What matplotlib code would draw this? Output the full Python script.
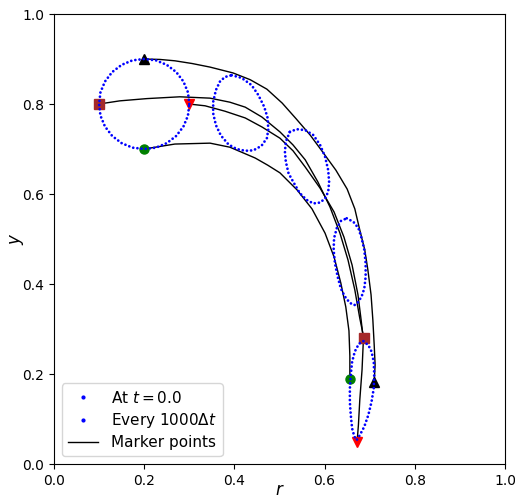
import numpy as np
import matplotlib.pyplot as plt
from matplotlib.lines import Line2D

# interface snapshots (r, y)
shape_t0_r = [0.300, 0.297, 0.287, 0.271, 0.250, 0.226, 0.200, 0.174, 0.150, 0.129, 0.113, 0.103,
              0.100, 0.103, 0.113, 0.129, 0.150, 0.174, 0.200, 0.226, 0.250, 0.271, 0.287, 0.297]
shape_t0_y = [0.800, 0.826, 0.850, 0.871, 0.887, 0.897, 0.900, 0.897, 0.887, 0.871, 0.850, 0.826,
              0.800, 0.774, 0.750, 0.729, 0.713, 0.703, 0.700, 0.703, 0.713, 0.729, 0.750, 0.774]

shape_1_r = [0.394, 0.416, 0.438, 0.453, 0.466, 0.474, 0.475, 0.472, 0.460, 0.442,
             0.424, 0.405, 0.387, 0.370, 0.359, 0.353, 0.353, 0.359, 0.368, 0.379]
shape_1_y = [0.864, 0.858, 0.842, 0.820, 0.794, 0.768, 0.742, 0.724, 0.707, 0.697,
             0.696, 0.700, 0.710, 0.730, 0.753, 0.779, 0.805, 0.831, 0.850, 0.860]

shape_2_r = [0.523, 0.538, 0.557, 0.575, 0.590, 0.601, 0.608, 0.610, 0.608, 0.601,
             0.590, 0.575, 0.560, 0.545, 0.531, 0.520, 0.514, 0.512, 0.514, 0.520]
shape_2_y = [0.738, 0.744, 0.742, 0.731, 0.709, 0.683, 0.653, 0.627, 0.605, 0.590,
             0.581, 0.579, 0.587, 0.602, 0.626, 0.646, 0.672, 0.694, 0.716, 0.731]

shape_3_r = [0.649, 0.664, 0.675, 0.682, 0.688, 0.691, 0.691, 0.688, 0.682, 0.673,
             0.666, 0.656, 0.645, 0.636, 0.629, 0.623, 0.620, 0.621, 0.627, 0.636]
shape_3_y = [0.546, 0.538, 0.524, 0.502, 0.476, 0.446, 0.416, 0.390, 0.372, 0.358,
             0.353, 0.358, 0.372, 0.390, 0.416, 0.446, 0.476, 0.502, 0.524, 0.540]

shape_4_r = [0.686, 0.697, 0.704, 0.709, 0.710, 0.709, 0.704, 0.697, 0.688, 0.678,
             0.671, 0.666, 0.661, 0.658, 0.656, 0.656, 0.658, 0.661, 0.667, 0.676]
shape_4_y = [0.273, 0.264, 0.250, 0.227, 0.198, 0.168, 0.138, 0.109, 0.083, 0.064,
             0.053, 0.061, 0.079, 0.109, 0.138, 0.168, 0.198, 0.227, 0.250, 0.267]

# marker point trajectories
path_top_r = [0.200, 0.235, 0.268, 0.306, 0.346, 0.397, 0.435, 0.472, 0.506, 0.537, 0.568,
              0.596, 0.625, 0.650, 0.667, 0.678, 0.689, 0.696, 0.703, 0.707, 0.710, 0.712, 0.710]
path_top_y = [0.900, 0.899, 0.896, 0.890, 0.882, 0.869, 0.854, 0.833, 0.802, 0.767, 0.731,
              0.693, 0.653, 0.611, 0.567, 0.520, 0.476, 0.431, 0.376, 0.320, 0.264, 0.220, 0.182]

path_left_r = [0.100, 0.146, 0.206, 0.279, 0.346, 0.390, 0.424, 0.461, 0.501, 0.530, 0.557,
               0.585, 0.612, 0.634, 0.652, 0.667, 0.678, 0.687]
path_left_y = [0.800, 0.807, 0.812, 0.816, 0.813, 0.804, 0.793, 0.771, 0.738, 0.709, 0.676,
               0.627, 0.571, 0.513, 0.453, 0.387, 0.324, 0.280]

path_bottom_r = [0.200, 0.268, 0.346, 0.390, 0.446, 0.474, 0.501, 0.539, 0.572, 0.601, 0.621,
                 0.636, 0.647, 0.654, 0.656, 0.656]
path_bottom_y = [0.700, 0.711, 0.713, 0.704, 0.680, 0.664, 0.647, 0.609, 0.567, 0.513, 0.460,
                 0.402, 0.349, 0.296, 0.240, 0.189]

path_right_r = [0.299, 0.335, 0.379, 0.424, 0.461, 0.501, 0.530, 0.557, 0.590, 0.621, 0.643,
                0.661, 0.674, 0.681, 0.686, 0.683, 0.678, 0.675, 0.672]
path_right_y = [0.800, 0.796, 0.784, 0.769, 0.749, 0.724, 0.696, 0.660, 0.613, 0.560, 0.504,
                0.442, 0.376, 0.320, 0.276, 0.209, 0.142, 0.087, 0.049]


def closed(a):
    return list(a) + [a[0]]


fig = plt.figure(figsize=(5.15, 4.98), dpi=100)
ax = fig.add_axes([54/515, 34/498, 451/515, 450/498])

paths = [(path_top_r, path_top_y, '^', 'black'),
         (path_left_r, path_left_y, 's', 'brown'),
         (path_bottom_r, path_bottom_y, 'o', 'green'),
         (path_right_r, path_right_y, 'v', 'red')]
for pr, py, mk, col in paths:
    ax.plot(pr, py, color='black', lw=1.0, zorder=2)
    ax.plot([pr[0], pr[-1]], [py[0], py[-1]], ls='none', marker=mk, ms=6.5,
            color=col, zorder=2.5)

shapes = [(shape_t0_r, shape_t0_y), (shape_1_r, shape_1_y), (shape_2_r, shape_2_y),
          (shape_3_r, shape_3_y), (shape_4_r, shape_4_y)]
for sr, sy in shapes:
    ax.plot(closed(sr), closed(sy), color='blue', lw=2.0, ls=(0, (0.01, 1.5)),
            dash_capstyle='round', zorder=3)

handles = [Line2D([], [], ls='none', marker='.', ms=4, color='blue'),
           Line2D([], [], ls='none', marker='.', ms=4, color='blue'),
           Line2D([], [], color='black', lw=1.0)]
labels = ['At $t = 0.0$', 'Every 1000$\\Delta t$', 'Marker points']
ax.legend(handles, labels, loc='lower left', fontsize=11, labelspacing=0.35)

ax.set_xlim(0, 1)
ax.set_ylim(0, 1)
ax.set_xlabel('$r$', fontsize=12, labelpad=-5)
ax.set_ylabel('$y$', fontsize=12, labelpad=-3)

plt.savefig('out.png', dpi=100)
plt.close()
